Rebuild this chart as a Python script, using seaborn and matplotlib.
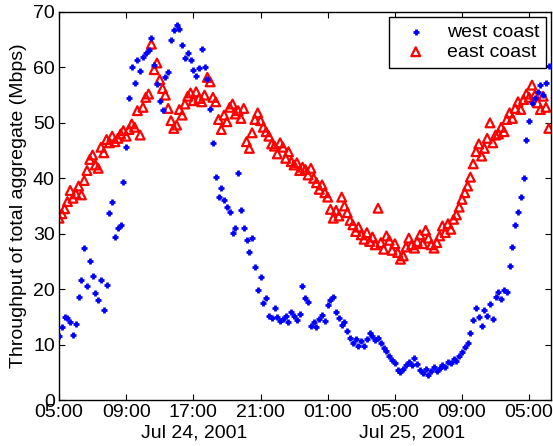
import numpy as np
import pandas as pd
import matplotlib
matplotlib.use("Agg")
import matplotlib.pyplot as plt
import matplotlib.transforms as mtransforms
import seaborn as sns

# 10-minute samples starting Jul 24, 2001 05:00
times = pd.date_range("2001-07-24 05:00", periods=176, freq="10min")
hours = ((times - times[0]) / pd.Timedelta(hours=1)).to_numpy()

# Throughput of the total aggregate (Mbps), one row per hour of samples
west_coast = [
    11.5, 13.2, 15.0, 14.8, 14.1, 11.7,
    13.8, 18.6, 21.6, 27.4, 20.6, 25.0,
    22.3, 19.3, 18.0, 21.6, 16.2, 20.7,
    33.8, 35.7, 29.4, 31.0, 31.6, 39.4,
    45.7, 54.5, 60.1, 57.2, 61.3, 59.4,
    61.9, 62.6, 63.1, 65.3, 60.5, 57.0,
    54.0, 52.3, 58.3, 59.2, 64.9, 66.8,
    67.6, 67.0, 64.0, 61.7, 62.6, 61.3,
    59.5, 58.4, 59.9, 63.3, 60.1, 58.0,
    52.5, 46.4, 40.3, 36.6, 38.2, 36.0,
    34.8, 33.9, 30.1, 31.0, 41.0, 34.2,
    31.0, 28.9, 26.7, 29.2, 24.0, 19.8,
    22.2, 17.5, 18.4, 15.2, 14.8, 16.6,
    15.0, 14.3, 14.6, 15.2, 14.0, 15.8,
    15.1, 14.4, 15.6, 20.6, 18.4, 17.7,
    13.4, 14.1, 13.2, 14.6, 15.3, 14.2,
    17.1, 18.0, 18.6, 15.8, 14.8, 13.6,
    14.0, 12.4, 11.2, 10.3, 11.0, 9.8,
    10.6, 9.7, 11.0, 12.0, 11.6, 10.8,
    11.2, 10.2, 9.4, 8.8, 8.0, 7.3,
    6.6, 5.5, 5.0, 5.6, 6.4, 6.9,
    6.3, 7.6, 6.5, 5.4, 4.8, 5.6,
    4.6, 5.3, 5.9, 5.2, 5.8, 6.3,
    6.0, 6.8, 6.6, 7.4, 7.0, 7.9,
    8.6, 9.5, 10.3, 12.1, 14.4, 16.6,
    15.0, 13.4, 16.3, 15.1, 17.3, 14.6,
    18.6, 19.4, 18.2, 19.9, 19.5, 24.2,
    27.6, 31.6, 33.9, 36.6, 40.1, 46.9,
    50.3, 53.5, 54.4, 55.6, 56.8, 55.0,
    57.2, 60.2,
]

east_coast = [
    32.8, 33.6, 34.5, 35.8, 37.8, 36.4,
    37.2, 38.6, 37.0, 39.6, 41.4, 43.4,
    44.2, 42.4, 41.8, 45.6, 44.6, 47.0,
    46.4, 47.6, 46.6, 47.2, 48.0, 48.6,
    47.6, 48.8, 49.8, 49.2, 52.2, 47.8,
    52.8, 54.6, 55.2, 64.2, 59.6, 60.8,
    57.8, 56.2, 55.0, 52.6, 50.4, 49.0,
    49.6, 52.4, 51.4, 53.4, 54.8, 55.4,
    54.0, 55.6, 54.4, 53.8, 55.0, 58.2,
    57.4, 54.6, 53.8, 50.6, 48.8, 51.4,
    50.2, 52.8, 53.4, 51.6, 52.2, 50.8,
    52.6, 46.6, 45.4, 48.2, 50.6, 51.8,
    50.4, 49.2, 48.4, 47.6, 46.2, 45.8,
    44.4, 46.4, 45.6, 43.6, 44.8, 43.0,
    42.4, 42.8, 41.4, 42.0, 41.6, 40.6,
    41.8, 40.0, 39.2, 38.0, 38.8, 37.4,
    36.6, 34.4, 32.8, 34.2, 33.2, 36.6,
    35.0, 33.8, 32.4, 31.6, 30.4, 31.2,
    29.8, 29.0, 30.2, 28.6, 29.4, 28.0,
    34.6, 28.4, 27.2, 29.6, 28.8, 27.0,
    28.2, 26.6, 25.4, 26.0, 27.6, 29.2,
    28.0, 27.4, 28.6, 29.8, 28.2, 30.6,
    29.2, 28.0, 27.4, 28.4, 29.6, 31.4,
    30.2, 31.8, 30.8, 32.6, 33.4, 34.8,
    36.2, 37.4, 38.6, 40.2, 42.6, 44.8,
    46.2, 44.0, 45.4, 47.2, 50.0, 46.4,
    47.8, 48.0, 49.2, 48.4, 50.6, 51.8,
    50.8, 52.6, 53.8, 52.4, 54.2, 55.2,
    54.6, 56.8, 55.0, 53.6, 52.4, 54.8,
    52.8, 49.0,
]

tick_hours = [0, 4, 8, 12, 16, 20, 24, 28]
tick_labels = ["05:00", "09:00", "17:00", "21:00", "01:00", "05:00", "09:00", "05:00"]
date_labels = ["Jul 24, 2001", "Jul 25, 2001"]
date_label_hours = [8.07, 21.04]

sns.set_style("ticks")
plt.rcParams["font.family"] = ["Liberation Sans", "DejaVu Sans"]
plt.rcParams.update({
    "font.size": 14,
    "xtick.direction": "in",
    "ytick.direction": "in",
    "xtick.top": True,
    "ytick.right": True,
    "xtick.major.size": 4,
    "ytick.major.size": 4,
    "xtick.major.width": 0.8,
    "ytick.major.width": 0.8,
    "xtick.major.pad": 3,
    "ytick.major.pad": 3,
    "axes.linewidth": 1.0,
    "axes.edgecolor": "black",
    "xtick.color": "black",
    "ytick.color": "black",
    "text.color": "black",
    "axes.labelcolor": "black",
})

fig = plt.figure(figsize=(5.53, 4.46), dpi=100)
ax = fig.add_axes([0.1067, 0.1031, 0.8897, 0.8700])

df = pd.DataFrame({"hours": hours, "west": west_coast, "east": east_coast})

sns.scatterplot(data=df, x="hours", y="east", ax=ax, marker="^", s=40,
                facecolor="none", edgecolor="#ff0000", linewidth=1.6,
                label="east coast", zorder=2)
sns.scatterplot(data=df, x="hours", y="west", ax=ax, marker="+", s=24,
                color="#0000ff", linewidth=2.0, label="west coast", zorder=3)

ax.set_xlim(0, 29.3)
ax.set_ylim(0, 70)
ax.set_yticks(range(0, 71, 10))
ax.set_xticks(tick_hours)
ax.set_xticklabels(tick_labels)
ax.set_xlabel("")
ax.set_ylabel("Throughput of total aggregate (Mbps)", labelpad=4)
for side in ["top", "right", "left", "bottom"]:
    ax.spines[side].set_visible(True)

trans = mtransforms.blended_transform_factory(ax.transData, ax.transAxes)
for h, txt in zip(date_label_hours, date_labels):
    ax.text(h, -0.096, txt, transform=trans, ha="center", va="baseline")

handles, labels = ax.get_legend_handles_labels()
order = [labels.index("west coast"), labels.index("east coast")]
leg = ax.legend([handles[i] for i in order], [labels[i] for i in order],
                loc="upper right", fancybox=False, framealpha=1,
                edgecolor="black", borderpad=0.35, labelspacing=0.1,
                handletextpad=0.6, borderaxespad=0.25, fontsize=14)
leg.get_frame().set_linewidth(1.0)

fig.savefig("out.png", dpi=100)
